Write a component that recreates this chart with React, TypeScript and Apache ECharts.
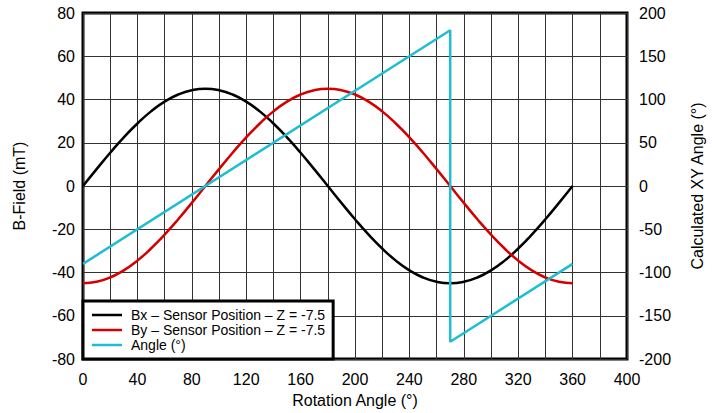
import React, { useEffect, useRef } from "react";
import * as echarts from "echarts";

const rotation = [0, 10, 20, 30, 40, 50, 60, 70, 80, 90, 100, 110, 120, 130, 140, 150, 160, 170, 180, 190, 200, 210, 220, 230, 240, 250, 260, 270, 280, 290, 300, 310, 320, 330, 340, 350, 360];
const bx = [0, 7.8, 15.4, 22.5, 28.9, 34.5, 39, 42.3, 44.3, 45, 44.3, 42.3, 39, 34.5, 28.9, 22.5, 15.4, 7.8, 0, -7.8, -15.4, -22.5, -28.9, -34.5, -39, -42.3, -44.3, -45, -44.3, -42.3, -39, -34.5, -28.9, -22.5, -15.4, -7.8, 0];
const by = [-45, -44.3, -42.3, -39, -34.5, -28.9, -22.5, -15.4, -7.8, 0, 7.8, 15.4, 22.5, 28.9, 34.5, 39, 42.3, 44.3, 45, 44.3, 42.3, 39, 34.5, 28.9, 22.5, 15.4, 7.8, 0, -7.8, -15.4, -22.5, -28.9, -34.5, -39, -42.3, -44.3, -45];
const angleX = [0, 270, 270, 360];
const angleY = [-90, 180, -180, -90];

const seriesNames = ["Bx – Sensor Position – Z = -7.5", "By – Sensor Position – Z = -7.5", "Angle (°)"];
const colors = ["#000000", "#d40000", "#1ebed2"];

export default function App() {
  const ref = useRef<HTMLDivElement>(null);
  useEffect(() => {
    document.body.style.margin = "0";
    const chart = echarts.init(ref.current!, null, { renderer: "svg" });
    const font = "Liberation Sans, Arial, sans-serif";
    chart.setOption({
      animation: false,
      textStyle: { fontFamily: font },
      grid: {
        left: 83, right: 85, top: 13, bottom: 54,
        containLabel: false, outerBoundsMode: "none",
        show: true, borderColor: "#000", borderWidth: 3, backgroundColor: "transparent",
      },
      legend: {
        orient: "vertical",
        left: 83,
        bottom: 54,
        backgroundColor: "#fff",
        borderColor: "#000",
        borderWidth: 3,
        borderRadius: 0,
        padding: [7, 8, 7, 9],
        itemGap: 1,
        itemWidth: 30,
        itemHeight: 14,
        textStyle: { fontSize: 14, color: "#000", fontFamily: font, padding: [0, 0, 0, 4] },
        data: seriesNames.map((n) => ({ name: n, icon: "path://M0,6L30,6L30,8.5L0,8.5Z" })),
        z: 10,
      },
      xAxis: {
        type: "value",
        min: 0,
        max: 400,
        interval: 40,
        name: "Rotation Angle (°)",
        nameLocation: "middle",
        nameGap: 33,
        nameTextStyle: { fontSize: 16, color: "#000", fontFamily: font },
        axisLine: { show: false, onZero: false },
        axisTick: { show: false },
        axisLabel: { fontSize: 16, color: "#000", margin: 12, fontFamily: font },
        splitLine: { show: true, lineStyle: { color: "#333", width: 1 } },
        minorTick: { show: false, splitNumber: 2 },
        minorSplitLine: { show: true, lineStyle: { color: "#333", width: 1 } },
      },
      yAxis: [
        {
          type: "value",
          min: -80,
          max: 80,
          interval: 20,
          name: "B-Field (mT)",
          nameLocation: "middle",
          nameGap: 56,
          nameTextStyle: { fontSize: 16, color: "#000", fontFamily: font },
          axisLine: { show: false },
          axisTick: { show: false },
          axisLabel: { fontSize: 16, color: "#000", margin: 8, fontFamily: font },
          splitLine: { show: true, lineStyle: { color: "#333", width: 1 } },
        },
        {
          type: "value",
          min: -200,
          max: 200,
          interval: 50,
          name: "Calculated XY Angle (°)",
          nameLocation: "middle",
          nameGap: 62,
          nameTextStyle: { fontSize: 16, color: "#000", fontFamily: font },
          axisLine: { show: false },
          axisTick: { show: false },
          axisLabel: { fontSize: 16, color: "#000", margin: 12, fontFamily: font },
          splitLine: { show: false },
        },
      ],
      series: [
        {
          name: seriesNames[0],
          type: "line",
          symbol: "none",
          smooth: true,
          data: rotation.map((x, i) => [x, bx[i]]),
          lineStyle: { color: colors[0], width: 2.5 },
          itemStyle: { color: colors[0] },
        },
        {
          name: seriesNames[1],
          type: "line",
          symbol: "none",
          smooth: true,
          data: rotation.map((x, i) => [x, by[i]]),
          lineStyle: { color: colors[1], width: 2.5 },
          itemStyle: { color: colors[1] },
        },
        {
          name: seriesNames[2],
          type: "line",
          symbol: "none",
          yAxisIndex: 1,
          data: angleX.map((x, i) => [x, angleY[i]]),
          lineStyle: { color: colors[2], width: 2.5 },
          itemStyle: { color: colors[2] },
        },
      ],
    });
    return () => chart.dispose();
  }, []);
  return <div ref={ref} style={{ width: 712, height: 413 }} />;
}
